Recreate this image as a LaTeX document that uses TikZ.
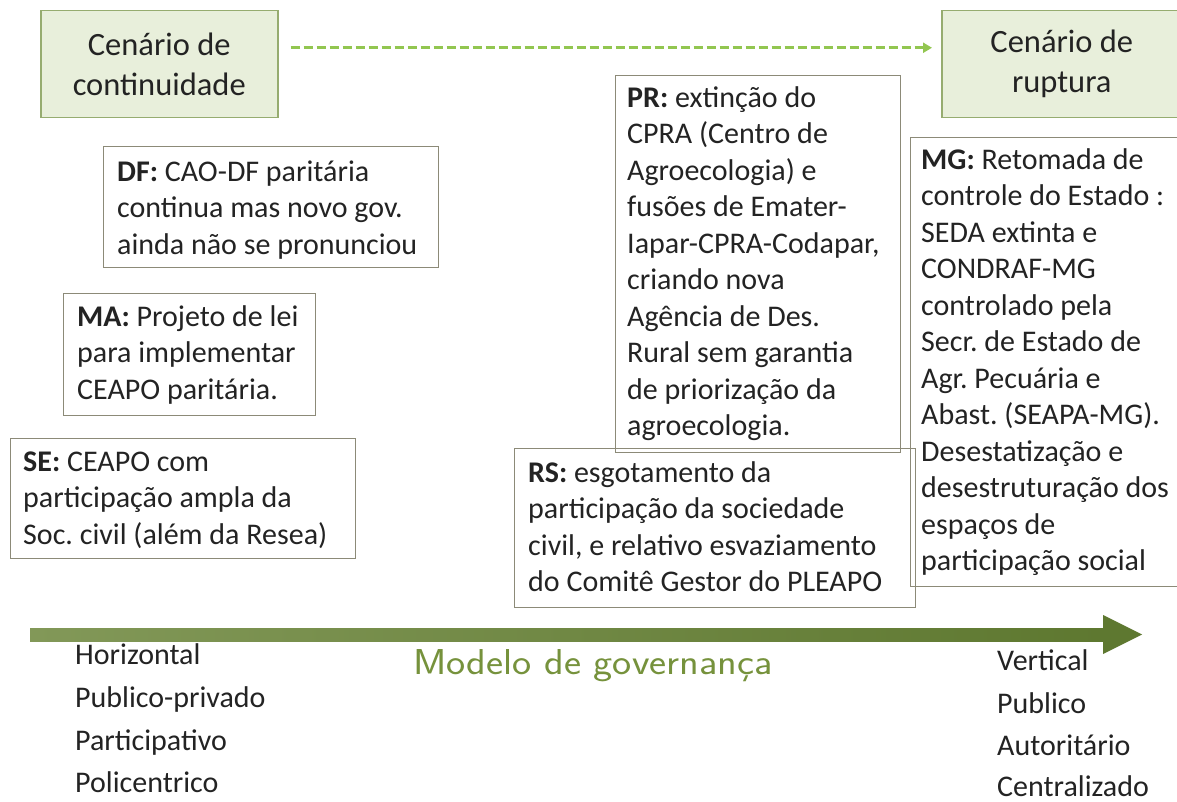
\documentclass[tikz,border=0pt]{standalone}
\usepackage{fontspec}
\setmainfont{Carlito}
\usetikzlibrary{arrows.meta}
\frenchspacing
\definecolor{boxgray}{RGB}{140,138,120}
\definecolor{scenfill}{RGB}{232,239,219}
\definecolor{scenborder}{RGB}{150,172,112}
\definecolor{dashgreen}{RGB}{146,198,80}
\definecolor{txt}{RGB}{35,35,35}
\definecolor{modelgreen}{RGB}{118,146,60}
\definecolor{shaftlight}{RGB}{130,152,88}
\definecolor{shaftdark}{RGB}{94,120,48}
\tikzset{
  note/.style={draw=boxgray, line width=1.4pt, inner sep=0pt, anchor=north west},
  notetext/.style={anchor=north west, inner sep=0pt, align=left,
    font=\frenchspacing\fontsize{30}{36.5}\selectfont, text=txt},
  scen/.style={draw=scenborder, fill=scenfill, line width=1.5pt, anchor=north west,
    align=center, inner sep=0pt, font=\fontsize{32.5}{40}\selectfont, text=txt},
  axislabel/.style={anchor=base west, inner sep=0pt,
    font=\fontsize{30}{36}\selectfont, text=txt},
  dasharrow/.style={draw=dashgreen, line width=2.6pt, dash pattern=on 9pt off 4pt,
    -{Triangle[length=9pt,width=10pt]}}
}
\begin{document}
\begin{tikzpicture}[x=1pt,y=-1pt]
\useasboundingbox[fill=white] (0,0) rectangle (1177,802);

% scenario boxes
\node[scen, minimum width=237pt, minimum height=107pt] (cont) at (40,10) {Cenário de\\continuidade};
\node[scen, minimum width=240pt, minimum height=107pt] (rupt) at (941,10) {Cenário de\\ruptura};
\draw[dasharrow] ([xshift=12pt,yshift=16.5pt]cont.east) -- ([xshift=-9pt,yshift=16.5pt]rupt.west);

% left boxes
\node[note, minimum width=335pt, minimum height=121pt] (dfbox) at (103,146) {};
\node[notetext] (dftext) at ([xshift=14pt,yshift=-9.5pt]dfbox.north west)
  {\strut\textbf{DF:} CAO-DF paritária\\continua mas novo gov.\\ainda não se pronunciou};

\node[note, minimum width=252pt, minimum height=122pt] (mabox) at (63,293) {};
\node[notetext] (matext) at ([xshift=14pt,yshift=-7.5pt]mabox.north west)
  {\strut\textbf{MA:} Projeto de lei\\para implementar\\CEAPO paritária.};

\node[note, minimum width=345pt, minimum height=120pt] (sebox) at (10,438) {};
\node[notetext] (setext) at ([xshift=13pt,yshift=-7.5pt]sebox.north west)
  {\strut\textbf{SE:} CEAPO com\\participação ampla da\\Soc. civil (além da Resea)};

% right boxes
\node[note, minimum width=285pt, minimum height=377pt] (prbox) at (615,75) {};
\node[notetext] (prtext) at ([xshift=12pt,yshift=-6.5pt]prbox.north west)
  {\strut\textbf{PR:} extinção do\\CPRA (Centro de\\Agroecologia) e\\fusões de Emater-\\Iapar-CPRA-Codapar,\\criando nova\\Agência de Des.\\Rural sem garantia\\de priorização da\\agroecologia.};

\node[note, minimum width=401pt, minimum height=159pt] (rsbox) at (514,448) {};
\node[notetext] (rstext) at ([xshift=14pt,yshift=-8.5pt]rsbox.north west)
  {\strut\textbf{RS:} esgotamento da\\participação da sociedade\\civil, e relativo esvaziamento\\do Comitê Gestor do PLEAPO};

\node[note, minimum width=280pt, minimum height=449pt] (mgbox) at (910,137) {};
\node[notetext] (mgtext) at ([xshift=11pt,yshift=-6.5pt]mgbox.north west)
  {\strut\textbf{MG:} Retomada de\\controle do Estado :\\SEDA extinta e\\CONDRAF-MG\\controlado pela\\Secr. de Estado de\\Agr. Pecuária e\\Abast. (SEAPA-MG).\\Desestatização e\\desestruturação dos\\espaços de\\participação social};

% governance axis
\fill[left color=shaftlight, right color=shaftdark] (30,628) rectangle (1104,641);
\fill[shaftdark] (1103,615) -- (1142,634.5) -- (1103,654) -- cycle;
\node[text=modelgreen, font=\sffamily\fontsize{36}{40}\selectfont, inner sep=0pt] (model) at (593,666)
  {\scalebox{1.13}[1]{Modelo de governança}};

\node[axislabel] (l1) at (75,664) {Horizontal};
\node[axislabel] (l2) at (75,707) {Publico-privado};
\node[axislabel] (l3) at (75,750) {Participativo};
\node[axislabel] (l4) at (75,792) {Policentrico};

\node[axislabel] (r1) at (997,670) {Vertical};
\node[axislabel] (r2) at (997,713) {Publico};
\node[axislabel] (r3) at (997,755) {Autoritário};
\node[axislabel] (r4) at (997,796) {Centralizado};
\end{tikzpicture}
\end{document}
